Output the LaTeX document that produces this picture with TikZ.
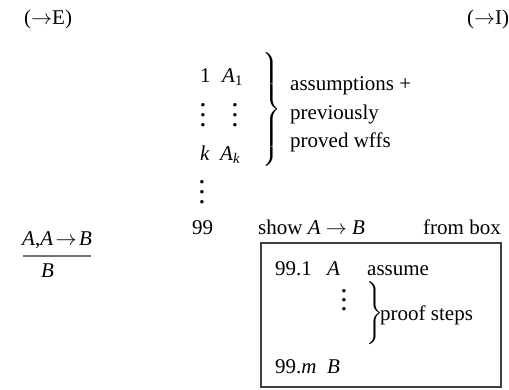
\documentclass[tikz,border=0pt]{standalone}
\usepackage{fix-cm}
\usepackage{graphicx}
\usepackage{fontspec}
\setmainfont{Liberation Serif}
\newcommand\vdotsx[1]{\vbox{\fontsize{29}{30}\selectfont\baselineskip=#1pt\lineskiplimit=0pt\hbox{.}\hbox{.}\hbox{.}}}
\newcommand\bigbrace[1]{\scalebox{2.1}{\fontsize{10}{12}\selectfont$\left.\vrule height#1pt depth#1pt width0pt\right\}$}}
\newcommand\arr{\scalebox{2.1}{\fontsize{10}{12}\selectfont$\rightarrow$}}
\begin{document}
\begin{tikzpicture}[x=1pt,y=-1pt,
  txt/.style={anchor=base west,inner sep=0pt,font=\fontsize{21}{25}\selectfont},
  dts/.style={anchor=center,inner sep=0pt},
  brc/.style={anchor=center,inner sep=0pt}]
\useasboundingbox (0,0) rectangle (509,389);
% rule names
\node[txt] (ruleE) at (24,24) {(\arr E)};
\node[txt] (ruleI) at (467,24) {(\arr I)};
% fraction
\node[txt] (num) at (22,245) {\textit{A},\textit{A}\hspace{2.5pt}\arr\hspace{2.5pt}\textit{B}};
\node[txt] (den) at (41,277) {\textit{B}};
\draw[line width=1.3pt,draw=black!55] (23,256) -- (91,256);
% assumption column
\node[txt] (n1) at (200,82) {1};
\node[txt] (a1) at (222,82) {\textit{A}\textsubscript{1}};
\node[dts] (d1) at (203,115) {\vdotsx{10}};
\node[dts] (d2) at (235,115) {\vdotsx{10}};
\node[txt] (nk) at (200,160) {\textit{k}};
\node[txt] (ak) at (220,160) {\textit{A}\textsubscript{\textit{k}}};
\node[brc] (br1) at (271,110) {\bigbrace{25}};
\node[txt] (t1) at (290,90) {assumptions +};
\node[txt] (t2) at (290,119) {previously};
\node[txt] (t3) at (290,147) {proved wffs};
\node[dts] (d3) at (202,192) {\vdotsx{10}};
% line 99
\node[txt] (n99) at (192,234) {99};
\node[txt] (show) at (258,234) {show \textit{A} \arr{} \textit{B}};
\node[txt] (from) at (423,234) {from box};
% box
\draw[line width=1.2pt,draw=black!75] (261,243) rectangle (501,387);
\node[txt] (n991) at (275,275) {99.1};
\node[txt] (aa) at (327,275) {\textit{A}};
\node[txt] (assume) at (367,275) {assume};
\node[dts] (d4) at (344,300) {\vdotsx{9}};
\node[brc] (br2) at (374,315) {\bigbrace{14}};
\node[txt] (steps) at (380,320) {proof steps};
\node[txt] (n99m) at (275,373) {99.\textit{m}};
\node[txt] (bb) at (327,373) {\textit{B}};
\end{tikzpicture}
\end{document}
